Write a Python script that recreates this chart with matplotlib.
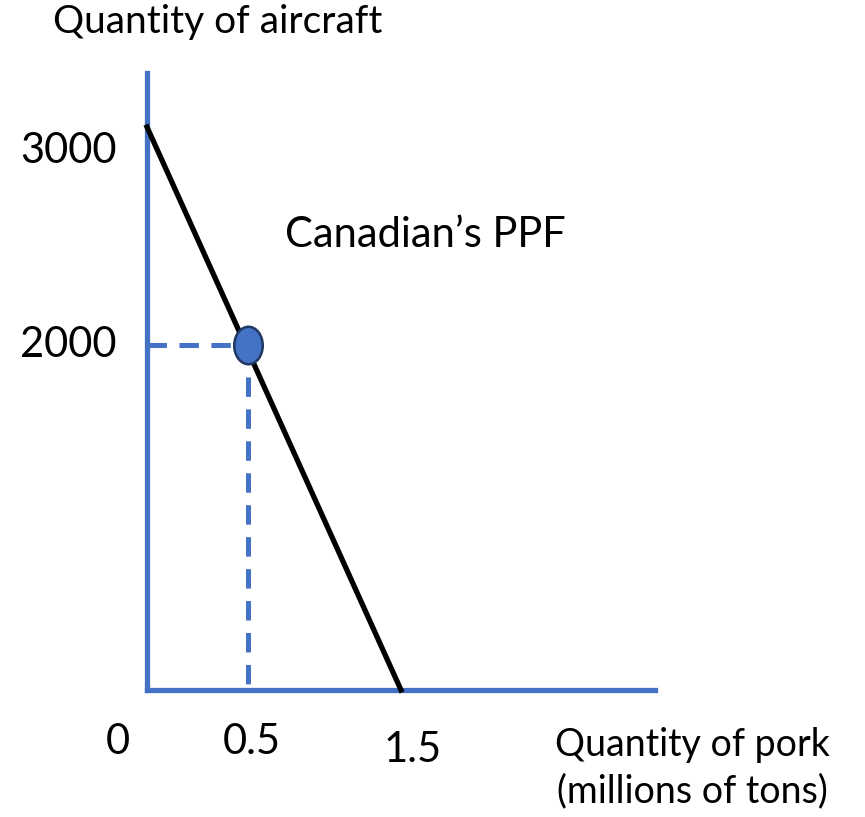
import numpy as np
import matplotlib
matplotlib.use("Agg")
import matplotlib.pyplot as plt
from matplotlib.path import Path
from matplotlib.transforms import Affine2D

# Canada's production possibilities frontier (pork vs aircraft)
ppf_pork = [0, 1.5]          # millions of tons
ppf_aircraft = [3000, 0]     # aircraft
point_pork = 0.5
point_aircraft = 2000
x_ticks = [0, 0.5, 1.5]
x_tick_labels = ["0", "0.5", "1.5"]
y_ticks = [2000, 3000]
y_tick_labels = ["2000", "3000"]

blue = "#4472C4"
navy = "#203864"

plt.rcParams["font.family"] = ["Lato", "DejaVu Sans"]
plt.rcParams["lines.scale_dashes"] = False

# the sketch is not drawn to scale, so use piecewise scales
x_val = [0, 0.5, 1.5, 3.0]
x_px = [0, 101, 254, 508]
y_val = [0, 2000, 3000, 3250]
y_px = [0, 345, 563, 617]

fig = plt.figure(figsize=(8.65, 8.17), dpi=100)
ax = fig.add_axes([147 / 865, 127 / 817, 508 / 865, 617 / 817])
ax.set_xscale("function", functions=(lambda v: np.interp(v, x_val, x_px),
                                     lambda p: np.interp(p, x_px, x_val)))
ax.set_yscale("function", functions=(lambda v: np.interp(v, y_val, y_px),
                                     lambda p: np.interp(p, y_px, y_val)))
ax.set_xlim(0, 3.0)
ax.set_ylim(0, 3250)

for side in ["top", "right"]:
    ax.spines[side].set_visible(False)
for side in ["left", "bottom"]:
    ax.spines[side].set_color(blue)
    ax.spines[side].set_linewidth(3.8)
ax.set_xticks([])
ax.set_yticks([])

# dashed guides to the chosen point
ax.plot([0, point_pork], [point_aircraft, point_aircraft], color=blue, lw=3.6,
        dashes=(14, 9), clip_on=False, zorder=2)
ax.plot([point_pork, point_pork], [point_aircraft, 0], color=blue, lw=3.6,
        dashes=(14, 9), clip_on=False, zorder=2)

# PPF line
ax.plot(ppf_pork, ppf_aircraft, color="black", lw=3.8, clip_on=False,
        solid_capstyle="projecting", zorder=3)

# oval point
oval = Path.unit_circle().transformed(Affine2D().scale(0.76, 1.0))
ax.plot([point_pork], [point_aircraft], marker=oval, ms=27, mfc=blue, mec=navy,
        mew=1.8, clip_on=False, zorder=4)

# tick labels placed by hand, like the sketch
x_offsets = [(-29, -52), (4, -52), (12, -60)]
for x, lab, off in zip(x_ticks, x_tick_labels, x_offsets):
    ax.annotate(lab, xy=(x, 0), xytext=off, textcoords="offset pixels",
                ha="center", va="center", fontsize=30, annotation_clip=False)
y_offsets = [(-79, 0), (-79, -24)]
for y, lab, off in zip(y_ticks, y_tick_labels, y_offsets):
    ax.annotate(lab, xy=(0, y), xytext=off, textcoords="offset pixels",
                ha="center", va="center", fontsize=30, annotation_clip=False)

fig.text(218 / 865, 1 - 22 / 817, "Quantity of aircraft", ha="center", va="center",
         fontsize=28)
fig.text(425 / 865, 1 - 235 / 817, "Canadian\u2019s PPF", ha="center", va="center",
         fontsize=30)
fig.text(692 / 865, 1 - 768 / 817, "Quantity of pork\n(millions of tons)",
         ha="center", va="center", fontsize=27, linespacing=1.35)

fig.savefig("out.png", dpi=100)
